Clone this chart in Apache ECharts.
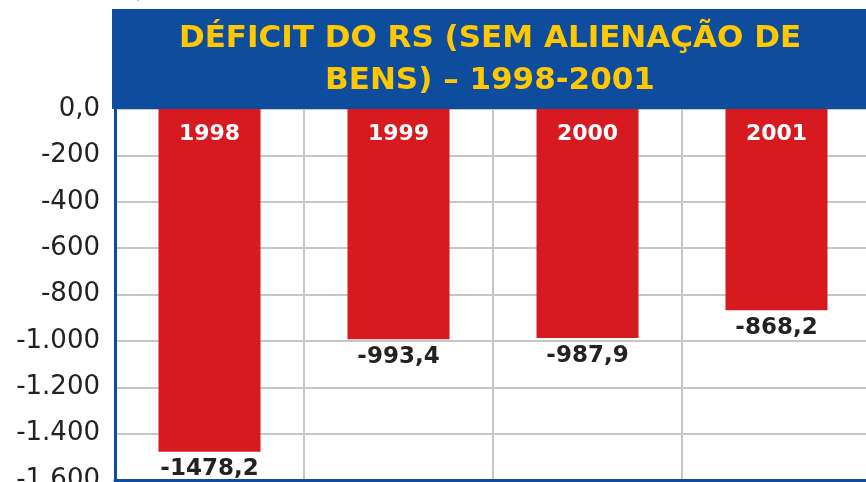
<!DOCTYPE html>
<html>
<head>
<meta charset="utf-8">
<script src="https://cdn.jsdelivr.net/npm/echarts@6/dist/echarts.min.js"></script>
<style>html,body{margin:0;padding:0;background:#fff}#c{width:866px;height:482px}</style>
</head>
<body>
<div id="c"></div>
<script>
const categories = ['1998', '1999', '2000', '2001'];
const deficit = [-1478.2, -993.4, -987.9, -868.2];
const titleLines = ['DÉFICIT DO RS (SEM ALIENAÇÃO DE', 'BENS) – 1998-2001'];
const unitText = 'R$ milhões';
const yMin = -1600, yMax = 0, yStep = 200;

function fmtAxis(v) {
  if (v === 0) return '0,0';
  const s = Math.abs(v).toString().replace(/\B(?=(\d{3})+(?!\d))/g, '.');
  return (v < 0 ? '-' : '') + s;
}
function fmtVal(v) {
  return v.toFixed(1).replace('.', ',');
}

const chart = echarts.init(document.getElementById('c'));
const blue = '#0E4D9E';
chart.setOption({
  animation: false,
  grid: { left: 115, top: 109, width: 756, height: 371, containLabel: false, outerBoundsMode: 'none' },
  xAxis: [
    {
      type: 'category', data: categories, position: 'bottom',
      axisLine: { show: true, onZero: false, lineStyle: { color: blue, width: 3 } },
      axisTick: { show: false }, axisLabel: { show: false },
      splitLine: { show: true, lineStyle: { color: '#c6c6c8', width: 2 } }
    },
    {
      type: 'category', data: categories, position: 'top',
      axisLine: { show: false, onZero: false }, axisTick: { show: false },
      axisLabel: { inside: true, margin: 14, color: '#fff', fontFamily: 'DejaVu Sans', fontWeight: 'bold', fontSize: 22, verticalAlign: 'top' },
      splitLine: { show: false }, z: 10
    }
  ],
  yAxis: {
    type: 'value', min: yMin, max: yMax, interval: yStep,
    axisLine: { show: true, onZero: false, lineStyle: { color: blue, width: 3 } },
    axisTick: { show: false },
    axisLabel: { formatter: fmtAxis, color: '#222', fontFamily: 'DejaVu Sans', fontSize: 26, margin: 15, showMaxLabel: true, showMinLabel: true },
    splitLine: { lineStyle: { color: '#c6c6c8', width: 2 } }
  },
  series: [{
    type: 'bar', data: deficit, barWidth: 102, xAxisIndex: 0,
    itemStyle: { color: '#D71920' },
    label: {
      show: true, position: 'bottom', distance: 6,
      formatter: p => fmtVal(p.value),
      color: '#222', fontFamily: 'DejaVu Sans', fontWeight: 'bold', fontSize: 23
    }
  }],
  graphic: [
    { type: 'rect', shape: { x: 112, y: 9, width: 754, height: 100 }, style: { fill: blue }, z: 5 },
    { type: 'text', x: 490, y: 60, z: 6, style: {
      text: titleLines.join('\n'), align: 'center', verticalAlign: 'middle', lineHeight: 42,
      fill: '#FFC800', font: 'bold 31px "DejaVu Sans"' } },
    { type: 'text', x: 116, y: 3, z: 6, style: {
      text: unitText, align: 'left', verticalAlign: 'bottom',
      fill: '#999', font: '22px "DejaVu Sans"' } }
  ]
});
</script>
</body>
</html>
